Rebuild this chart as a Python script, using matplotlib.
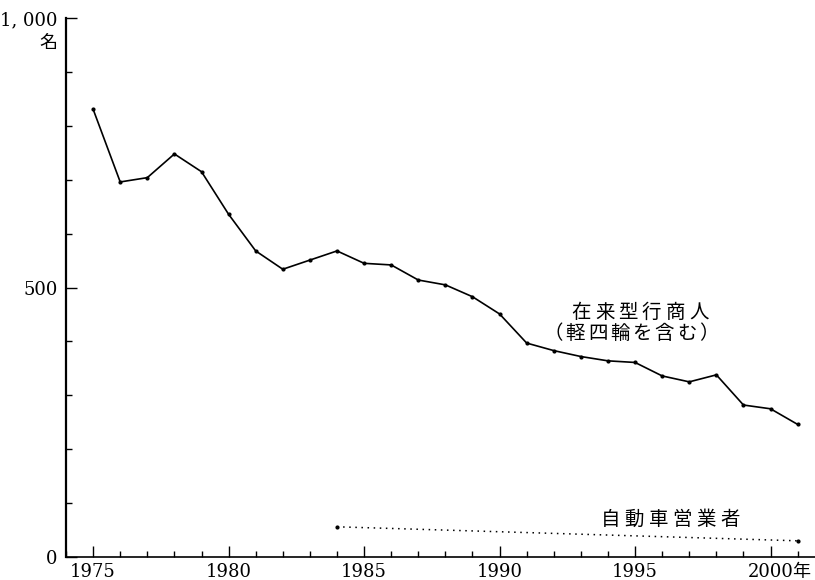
import matplotlib
matplotlib.use('Agg')
import matplotlib.pyplot as plt
from matplotlib.ticker import MultipleLocator

# data
years = list(range(1975, 2002))
peddlers = [831, 696, 704, 748, 715, 636, 568, 534, 551, 568,
            545, 542, 514, 505, 483, 451, 397, 383, 372, 364,
            361, 336, 325, 338, 282, 275, 246]
car_years = [1984, 2001]
car_sellers = [56, 30]

ytick_vals = [0, 500, 1000]
ytick_labels = ['0', '500', '1, 000']
xtick_vals = [1975, 1980, 1985, 1990, 1995, 2000]
xtick_labels = ['1975', '1980', '1985', '1990', '1995', '2000']

label_peddler = ['在来型行商人', '（軽四輪を含む）']
label_car = '自動車営業者'

jp = ['Noto Sans CJK JP', 'DejaVu Sans']
serif = ['DejaVu Serif', 'Noto Sans CJK JP']

fig = plt.figure(figsize=(8.15, 5.8), dpi=100)
ax = fig.add_axes([0.081, 0.0397, 0.919, 0.929])

ax.plot(years, peddlers, color='black', lw=1.2, marker='o', ms=2.0)
ax.plot(car_years, car_sellers, color='black', lw=1.1,
        linestyle=(0, (1, 3)), marker='o', ms=2.0)

ax.set_xlim(1974.0, 2001.64)
ax.set_ylim(0, 1000)

for s in ['top', 'right']:
    ax.spines[s].set_visible(False)
ax.spines['left'].set_linewidth(1.6)
ax.spines['bottom'].set_linewidth(1.2)

ax.set_yticks(ytick_vals)
ax.set_yticklabels(ytick_labels, family=serif, fontsize=13)
ax.yaxis.set_minor_locator(MultipleLocator(100))
ax.set_xticks(xtick_vals)
ax.set_xticklabels(xtick_labels, family=serif, fontsize=13)
ax.xaxis.set_minor_locator(MultipleLocator(1))
ax.tick_params(which='major', direction='in', length=8, width=1, pad=4)
ax.tick_params(which='minor', direction='in', length=4, width=1)
ax.tick_params(axis='y', which='major', pad=6)


def spaced(text, x, y, pitch_px, size=14):
    # draw characters one by one with wide letter spacing
    n = len(text)
    for i, ch in enumerate(text):
        dx = (i - (n - 1) / 2) * pitch_px * 0.72
        ax.annotate(ch, xy=(x, y), xytext=(dx, 0), textcoords='offset points',
                    ha='center', va='center', fontsize=size, family=jp)


spaced(label_peddler[0], 1995.18, 453, 23.5)
spaced(label_peddler[1], 1994.85, 415, 22.3)
spaced(label_car, 1996.3, 69, 24.0)

# unit marks
ax.annotate('名', xy=(0, 1000), xycoords=('axes fraction', 'data'),
            xytext=(-13, -18), textcoords='offset points',
            ha='center', va='center', fontsize=13, family=jp)
ax.annotate('年', xy=(2000, 0), xycoords=('data', 'axes fraction'),
            xytext=(22, -11), textcoords='offset points',
            ha='center', va='center', fontsize=13, family=jp)

fig.savefig('out.png', dpi=100)
